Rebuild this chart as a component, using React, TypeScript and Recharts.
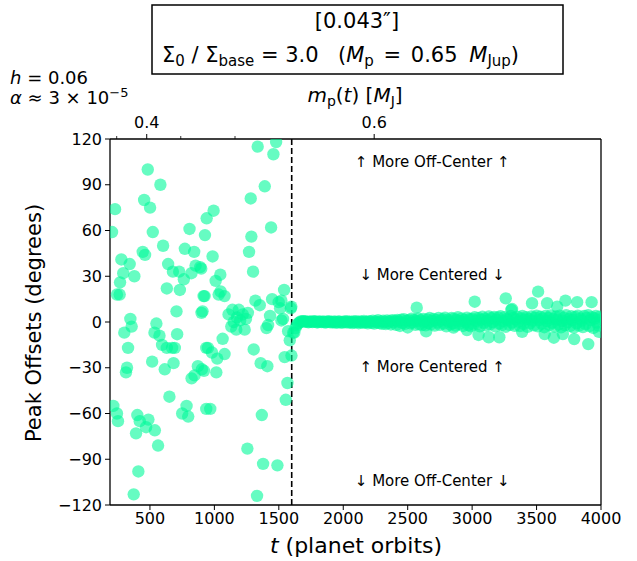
import React from 'react';
import { ScatterChart, Scatter, XAxis, YAxis, ReferenceLine, ReferenceDot } from 'recharts';

const W = 637;
const H = 561;
const FONT = "'DejaVu Sans', 'Liberation Sans', sans-serif";
const DOT = '#00FA9A';

// before the planet reaches full mass: widely scattered offsets
const earlyPoints: [number, number][] = [
  [206, 59], [216, -55], [229, 74], [244, 18], [244, -60], [252, -65], [265, 18], [268, 26],
  [278, 41], [293, 32], [301, -7], [314, -33], [322, -30], [330, -17], [343, 38], [348, 2],
  [358, -3], [374, -113], [379, 30], [392, -73], [402, -61], [410, -98], [421, -65], [444, 46],
  [455, 80], [462, 44], [470, -69], [483, 100], [488, -64], [501, 75], [517, -26], [522, 59],
  [535, -7], [538, -71], [550, -1], [563, -81], [574, -9], [581, 90], [594, -15], [602, 50],
  [615, -31], [631, 22], [631, -17], [641, 38], [651, -49], [672, -17], [678, 33], [683, -27],
  [693, -17], [706, 7], [711, -8], [727, 33], [732, 21], [750, -60], [763, 28], [771, 48],
  [784, -55], [797, -62], [807, 61], [822, 32], [823, -37], [843, 46], [846, -35], [854, 37],
  [872, -29], [890, 36], [898, 35], [900, 6], [903, -31], [908, 7], [916, 17], [919, -32],
  [924, 17], [927, 57], [940, 68], [937, -17], [937, -57], [950, -17], [968, -57], [981, -20],
  [986, 43], [994, 73], [1010, 27], [1015, -33], [1022, -24], [1033, 18], [1046, 31], [1048, 20],
  [1064, -11], [1079, 17], [1079, -21], [1110, 5], [1131, -3], [1140, 8], [1150, 0], [1170, -5],
  [1175, 3], [1190, 8], [1200, 1], [1220, 5], [1235, -5], [1245, 2], [1256, -83], [1260, 6],
  [1269, 46], [1282, 81], [1287, 56], [1300, 33], [1305, -18], [1318, 14], [1331, -114], [1336, 115],
  [1352, 11], [1359, -27], [1368, -61], [1378, -93], [1391, 89], [1404, -4], [1411, -29], [1417, -2],
  [1432, 4], [1440, 62], [1448, 15], [1458, 110], [1479, 118], [1489, -94], [1499, 13], [1510, 9],
  [1520, 14], [1520, 1], [1533, 2], [1541, 21], [1545, -23], [1554, -51], [1567, -40], [1572, -6],
  [1585, -12], [1593, 9], [1597, 10], [1598, -22], [1611, -7],
];

// after t = 1600: tight band near zero
const bandPoints: [number, number][] = [
  [1620, -7], [1630, -4], [1640, -2], [1650, -1], [1660, -0.3], [1670, 0.4], [1680, 0.3], [1690, 0.6], [1700, 0.4],
  [1710, 0.3], [1720, 0.1], [1730, -0.2], [1740, 0.4], [1750, 0.2], [1760, -0.1], [1770, 0.3], [1780, 0.5], [1790, 0], [1800, -0.3],
  [1810, 0.2], [1820, 0.4], [1830, -0.1], [1840, 0.1], [1850, 0.3], [1860, -0.4], [1870, 0], [1880, 0.2], [1890, 0.5], [1900, -0.2],
  [1910, 0.1], [1920, -0.3], [1930, 0.3], [1940, 0], [1950, -0.5], [1960, 0.2], [1970, 0.4], [1980, -0.1], [1990, -0.6], [2000, 0.1],
  [2010, 0.3], [2020, -0.2], [2030, 0.6], [2040, -0.4], [2050, 0], [2060, 0.2], [2070, -0.7], [2080, 0.3], [2090, -0.3], [2100, 0.5],
  [2110, -0.1], [2120, -0.8], [2130, 0.4], [2140, 0.1], [2150, -0.5], [2160, 0.7], [2170, -0.2], [2180, 0], [2190, -0.9], [2200, 0.6],
  [2210, 0.2], [2220, -0.6], [2230, 0.9], [2240, -1.0], [2250, 0.3], [2260, -0.3], [2270, 1.1], [2280, -0.7], [2290, 0.4], [2300, -1.2],
  [2310, 0.8], [2320, 0], [2330, -1.4], [2340, 1.0], [2350, -0.5], [2360, 0.6], [2370, -1.6], [2380, 1.2], [2390, -0.2], [2400, 0.9],
  [2410, -1.8], [2420, 1.3], [2430, 0.2], [2440, -2.6], [2450, 1.5], [2460, -0.6], [2470, 1.9], [2480, -1.2], [2490, 0.8], [2500, -3.6],
  [2510, 1.2], [2520, -0.9], [2530, 2.2], [2540, -0.3], [2550, 1.4], [2560, -1.9], [2570, 0.5], [2580, 2.4], [2590, -1.5], [2600, 1.0],
  [2610, -2.0], [2620, 2.0], [2630, 0.1], [2640, -2.2], [2650, 1.7], [2660, -0.7], [2670, 2.6], [2680, -1.6], [2690, 0.7], [2700, 2.0],
  [2710, -2.4], [2720, 1.3], [2730, -0.4], [2740, 2.7], [2750, -1.9], [2760, 0.9], [2770, 1.8], [2780, -1.0], [2790, 2.9], [2800, -2.8],
  [2810, 1.5], [2820, 0.3], [2830, -1.7], [2840, 2.6], [2850, -0.8], [2860, 2.2], [2870, -2.3], [2880, 1.1], [2890, 3.1], [2900, -1.3],
  [2910, 0.6], [2920, 2.4], [2930, -2.6], [2940, 1.4], [2950, -0.2], [2960, 2.8], [2970, -2.0], [2980, 1.9], [2990, -2.9],
  [3000, 2.0], [3010, -1.6], [3020, 3.2], [3030, 0.8], [3040, -1.2], [3050, 2.6], [3060, -2.8], [3070, 1.5], [3080, 3.4], [3090, -0.6],
  [3100, 2.2], [3110, -2.4], [3120, 1.0], [3130, 3.6], [3140, -1.5], [3150, 2.5], [3160, 0], [3170, 3.3], [3180, -2.9], [3190, 1.4],
  [3200, 3.0], [3210, -1.0], [3220, 3.8], [3230, -2.0], [3240, 0.6], [3250, 3.1], [3260, -3.1], [3270, 2.0], [3280, 1.1], [3290, -1.8],
  [3300, 3.9], [3310, -0.4], [3320, 2.7], [3330, -2.5], [3340, 1.7], [3350, 3.5], [3360, 0.2], [3370, -2.7], [3380, 2.4], [3390, 4.0],
  [3400, -1.3], [3410, 1.5], [3420, 3.2], [3430, -3.2], [3440, 1.9], [3450, -0.8], [3460, 3.7], [3470, 0.9], [3480, -2.2], [3490, 2.8],
  [3500, 4.2], [3510, -2.9], [3520, 1.2], [3530, 3.4], [3540, -1.1], [3550, 2.3], [3560, -3.4], [3570, 4.0], [3580, 0.5], [3590, 2.6],
  [3600, -1.9], [3610, 4.3], [3620, -0.5], [3630, 2.0], [3640, -3.0], [3650, 3.6], [3660, 1.6], [3670, -1.6], [3680, 4.1], [3690, -3.5],
  [3700, 0.8], [3710, 2.9], [3720, -2.1], [3730, 4.4], [3740, -0.2], [3750, 1.8], [3760, -2.6], [3770, 3.8], [3780, 1.3], [3790, -3.7],
  [3800, 3.3], [3810, -0.9], [3820, 4.2], [3830, -2.3], [3840, 2.2], [3850, 0.9], [3860, -3.3], [3870, 4.0], [3880, -1.4], [3890, 2.7],
  [3900, 4.5], [3910, -2.7], [3920, 1.2], [3930, 3.2], [3940, -3.9], [3950, 2.3], [3960, 3.9], [3970, -0.4], [3980, -2.4], [3990, 3.5], [4000, 1.8],
];

// stray points off the band
const lateOutliers: [number, number][] = [
  [2570, 9.4], [2643, -6.1], [2856, -3.7], [2960, -5.3], [3020, 13.3], [3050, -8.5], [3129, -10],
  [3211, -10], [3261, 15.5], [3304, 7.9], [3310, 8.5], [3388, -6.4], [3465, 12.3], [3512, 19.9],
  [3563, -7.9], [3582, 12.3], [3634, -10.3], [3660, 10], [3704, -7.9], [3724, 14], [3792, -11.2],
  [3815, 13], [3901, -14.5], [3927, 13], [3984, -6.4],
];

const xTicks = [500, 1000, 1500, 2000, 2500, 3000, 3500, 4000];
const yTicks = [-120, -90, -60, -30, 0, 30, 60, 90, 120];
const massTicks = [242, 337, 475, 604, 739, 1160, 2240];
const massLabels: Record<number, string> = { 475: '0.4', 2240: '0.6' };

const notes = [
  { t: 2690, v: 105, text: '↑ More Off-Center ↑' },
  { t: 2690, v: 31, text: '↓ More Centered ↓' },
  { t: 2690, v: -29, text: '↑ More Centered ↑' },
  { t: 2690, v: -104, text: '↓ More Off-Center ↓' },
];

const data = [...earlyPoints, ...bandPoints, ...lateOutliers].map(([t, v]) => ({ t, v }));

const minus = (v: number) => String(v).replace('-', '\u2212');

function Dot(props: any) {
  return <circle cx={props.cx} cy={props.cy} r={6.2} fill={DOT} fillOpacity={0.6} />;
}

function MassTick({ x, y, payload }: any) {
  const label = massLabels[payload.value];
  return (
    <g>
      <line x1={x} x2={x} y1={y} y2={y - (label ? 5 : 3)} stroke="#000" strokeWidth={label ? 1 : 0.8} />
      {label && (
        <text x={x} y={y - 11} textAnchor="middle" fontSize={16} fontFamily={FONT} fill="#000">{label}</text>
      )}
    </g>
  );
}

export default function App() {
  return (
    <div style={{ position: 'absolute', left: 0, top: 0, width: W, height: H, background: '#fff' }}>
      <ScatterChart width={W} height={H} margin={{ top: 109, right: 36, bottom: 26, left: 40 }}>
        <XAxis
          xAxisId="b"
          type="number"
          dataKey="t"
          domain={[190, 4000]}
          ticks={xTicks}
          allowDataOverflow
          height={30}
          tick={{ fontSize: 16, fill: '#000', fontFamily: FONT }}
          tickSize={5}
          tickMargin={3}
          stroke="#000"
          axisLine={{ stroke: '#000', strokeWidth: 1.3 }}
        />
        <XAxis
          xAxisId="top"
          orientation="top"
          type="number"
          dataKey="t"
          domain={[190, 4000]}
          ticks={massTicks}
          allowDataOverflow
          height={30}
          tickLine={false}
          tickSize={0}
          tickMargin={0}
          tick={<MassTick />}
          axisLine={{ stroke: '#000', strokeWidth: 1.3 }}
        />
        <YAxis
          type="number"
          dataKey="v"
          domain={[-120, 120]}
          ticks={yTicks}
          allowDataOverflow
          width={70}
          tickFormatter={minus}
          tick={{ fontSize: 16, fill: '#000', fontFamily: FONT }}
          tickSize={5}
          tickMargin={3}
          stroke="#000"
          axisLine={{ stroke: '#000', strokeWidth: 1.3 }}
        />
        <ReferenceLine xAxisId="b" x={4000} stroke="#000" strokeWidth={1.3} />
        <Scatter xAxisId="b" data={data} shape={<Dot />} isAnimationActive={false} />
        <ReferenceLine xAxisId="b" x={1600} stroke="#000" strokeWidth={1.6} strokeDasharray="6 3" />
        {notes.map((n) => (
          <ReferenceDot
            key={n.text}
            xAxisId="b"
            x={n.t}
            y={n.v}
            r={1}
            fill="none"
            stroke="none"
            label={{ value: n.text, position: 'center', fontSize: 15, fill: '#000', fontFamily: FONT }}
          />
        ))}
      </ScatterChart>

      <svg width={W} height={H} style={{ position: 'absolute', left: 0, top: 0, pointerEvents: 'none' }} fontFamily={FONT}>
        <rect x={152} y={5} width={411} height={69} fill="#fff" stroke="#000" strokeWidth={1.5} />
        <text x={357} y={28} textAnchor="middle" fontSize={21}>[0.043″]</text>
        <text x={162} y={62} fontSize={21}>
          Σ<tspan fontSize={15} dy={4}>0</tspan>
          <tspan dy={-4}> / Σ</tspan><tspan fontSize={15} dy={4}>base</tspan>
          <tspan dy={-4}> = 3.0</tspan>
          <tspan x={338}>(</tspan><tspan fontStyle="italic">M</tspan><tspan fontSize={15} dy={4}>p</tspan>
          <tspan dy={-4} dx={3}> = </tspan><tspan dx={3}>0.65 </tspan>
          <tspan dx={5} fontStyle="italic">M</tspan><tspan fontSize={15} dy={4}>Jup</tspan>
          <tspan dy={-4}>)</tspan>
        </text>

        <text x={10} y={84} fontSize={18}>
          <tspan fontStyle="italic">h</tspan> = 0.06
        </text>
        <text x={10} y={104} fontSize={18}>
          <tspan fontStyle="italic">α</tspan> ≈ 3 × 10<tspan fontSize={13} dy={-7}>−5</tspan>
        </text>

        <text x={355} y={102} textAnchor="middle" fontSize={20}>
          <tspan fontStyle="italic">m</tspan><tspan fontSize={14} dy={4}>p</tspan>
          <tspan dy={-4}>(</tspan><tspan fontStyle="italic">t</tspan>) [<tspan fontStyle="italic">M</tspan>
          <tspan fontSize={14} dy={4}>J</tspan><tspan dy={-4}>]</tspan>
        </text>

        <text
          x={0}
          y={0}
          transform="translate(41 323) rotate(-90)"
          textAnchor="middle"
          fontSize={21}
        >
          Peak Offsets (degrees)
        </text>

        <text x={356} y={553} textAnchor="middle" fontSize={22}>
          <tspan fontStyle="italic">t</tspan> (planet orbits)
        </text>
      </svg>
    </div>
  );
}
